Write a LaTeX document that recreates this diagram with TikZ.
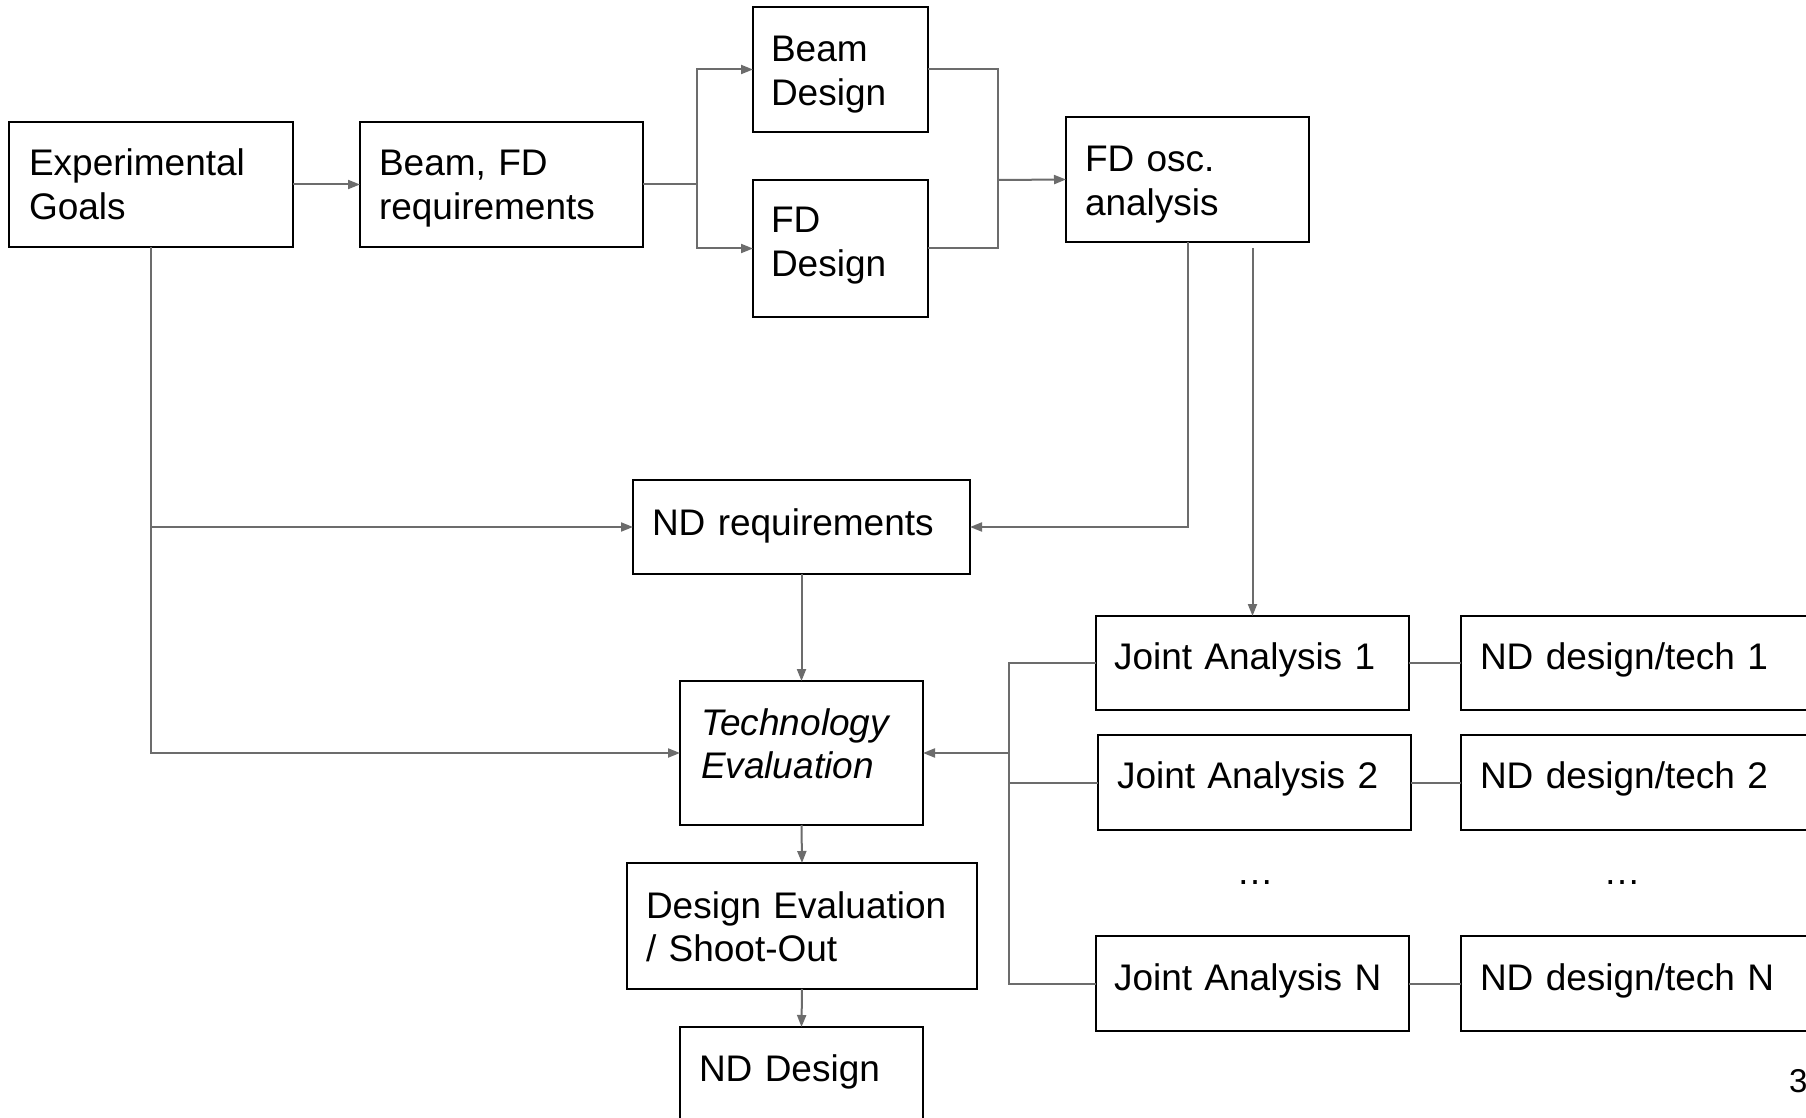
\documentclass[tikz,border=0pt]{standalone}
\usepackage{fontspec}
\setmainfont{Liberation Sans}
\usetikzlibrary{arrows.meta}
\definecolor{connc}{RGB}{108,108,108}
\tikzset{
  boxst/.style={draw=black, line width=1pt, inner sep=0pt, outer sep=0pt, rectangle},
  lbl/.style={anchor=base west, inner sep=0pt, outer sep=0pt, font=\fontsize{18.5pt}{21.6pt}\selectfont, align=left, text width=300pt},
  ctr/.style={anchor=base, inner sep=0pt, outer sep=0pt, font=\fontsize{18.5pt}{21.6pt}\selectfont},
  conn/.style={draw=connc, line width=1pt},
  arr/.style={conn, -{Triangle[length=6pt,width=4.5pt]}},
}
\newcommand\mybox[5]{%
  \node[boxst, minimum width={(#4-#2)*0.5pt}, minimum height={(#5-#3)*0.5pt}] (#1) at ({(#2+#4)/2},{(#3+#5)/2}) {};}
\begin{document}
\begin{tikzpicture}[x=0.5pt, y=-0.5pt]
\useasboundingbox (0,0) rectangle (1806,1118);
\clip (0,0) rectangle (1806,1118);
\fill[white] (0,0) rectangle (1806,1118);
% boxes
\mybox{eg}{9}{122}{293}{247}
\mybox{bfd}{360}{122}{643}{247}
\mybox{bd}{753}{7}{928}{132}
\mybox{fdd}{753}{180}{928}{317}
\mybox{fdo}{1066}{117}{1309}{242}
\mybox{ndr}{633}{480}{970}{574}
\mybox{te}{680}{681}{923}{825}
\mybox{de}{627}{863}{977}{989}
\mybox{ndd}{680}{1027}{923}{1160}
\mybox{ja1}{1096}{616}{1409}{710}
\mybox{ja2}{1098}{735}{1411}{830}
\mybox{jaN}{1096}{936}{1409}{1031}
\mybox{nd1}{1461}{616}{1840}{710}
\mybox{nd2}{1461}{735}{1840}{830}
\mybox{ndN}{1461}{936}{1840}{1031}
% texts
\node[lbl] (egT) at (29,176) {Experimental\\Goals};
\node[lbl] (bfdT) at (379,176) {Beam, FD\\requirements};
\node[lbl] (bdT) at (771,62) {Beam\\Design};
\node[lbl] (fddT) at (771,233) {FD\\Design};
\node[lbl] (fdoT) at (1085,172) {FD osc.\\analysis};
\node[lbl] (ndrT) at (652,535) {ND requirements};
\node[lbl, font=\fontsize{18.5pt}{21.6pt}\selectfont\itshape] (teT) at (701,735) {Technology\\Evaluation};
\node[lbl] (deT) at (646,918) {Design Evaluation\\/ Shoot-Out};
\node[lbl] (nddT) at (699,1081) {ND Design};
\node[lbl] (ja1T) at (1114,669) {Joint Analysis 1};
\node[lbl] (ja2T) at (1117,788) {Joint Analysis 2};
\node[lbl] (jaNT) at (1114,990) {Joint Analysis N};
\node[lbl] (nd1T) at (1480,669) {ND design/tech 1};
\node[lbl] (nd2T) at (1480,788) {ND design/tech 2};
\node[lbl] (ndNT) at (1480,990) {ND design/tech N};
\node[ctr] (dotsA) at (1255,884) {…};
\node[ctr] (dotsB) at (1622,884) {…};
\node[lbl, font=\fontsize{16.5pt}{20pt}\selectfont] (pageno) at (1789,1092) {3};
% junction coordinates
\coordinate (j1) at (697,184.5);
\coordinate (j2) at (998,180);
\coordinate (fdoB) at (1252.5,248);
\coordinate (rb) at (1009,753);
% connectors
\draw[arr] (eg.east) -- (bfd.west);
\draw[conn] (bfd.east) -- (j1);
\draw[arr] (j1) |- (bd.west);
\draw[arr] (j1) |- (fdd.west);
\draw[conn] (bd.east) -| (j2);
\draw[conn] (fdd.east) -| (j2);
\draw[arr] (j2) -- (fdo.west);
\draw[arr] (fdo.south) |- (ndr.east);
\draw[arr] (fdoB) -- (ja1.north);
\draw[arr] (eg.south) |- (ndr.west);
\draw[arr] (eg.south) |- (te.west);
\draw[arr] (ndr.south) -- (te.north);
\draw[arr] (te.south) -- (de.north);
\draw[arr] (de.south) -- (ndd.north);
\draw[conn] (ja1.west) -- (ja1.west -| rb) -- (jaN.west -| rb) -- (jaN.west);
\draw[conn] (ja2.west) -- (ja2.west -| rb);
\draw[arr] (rb) -- (te.east);
\draw[conn] (ja1.east) -- (nd1.west);
\draw[conn] (ja2.east) -- (nd2.west);
\draw[conn] (jaN.east) -- (ndN.west);
\end{tikzpicture}
\end{document}
